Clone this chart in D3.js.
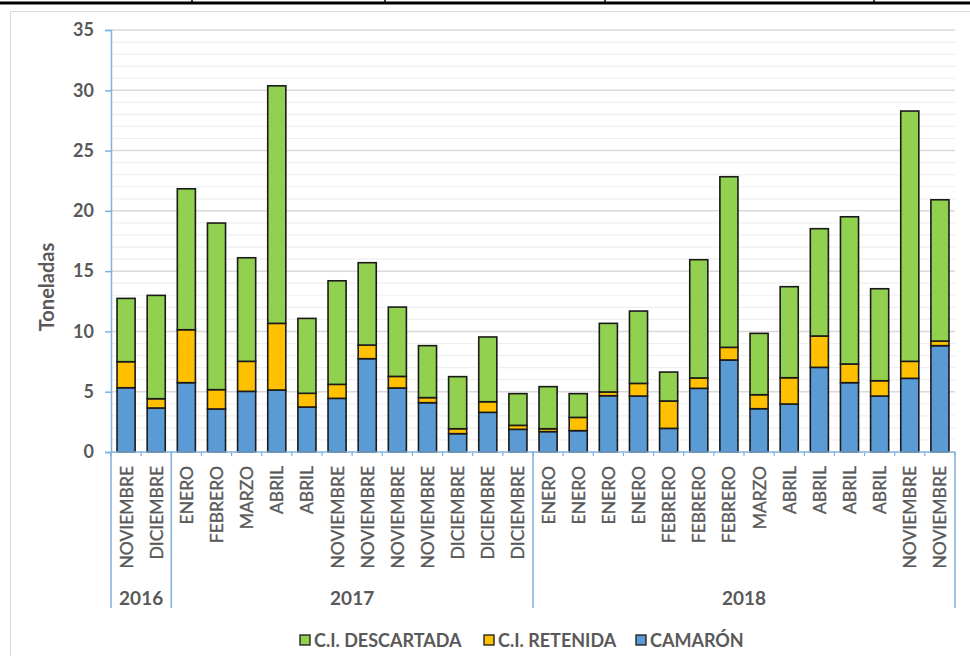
<!DOCTYPE html>
<html>
<head>
<meta charset="utf-8">
<script src="https://cdn.jsdelivr.net/npm/d3@7"></script>
<style>
  html, body { margin: 0; padding: 0; background: #fff; }
  svg { display: block; font-family: Lato, "Open Sans", sans-serif; }
</style>
</head>
<body>
<svg id="chart" width="970" height="656"></svg>
<script>
// Monthly catch composition (tonnes)
const months = [
  "NOVIEMBRE", "DICIEMBRE",
  "ENERO", "FEBRERO", "MARZO", "ABRIL", "ABRIL", "NOVIEMBRE", "NOVIEMBRE",
  "NOVIEMBRE", "NOVIEMBRE", "DICIEMBRE", "DICIEMBRE", "DICIEMBRE",
  "ENERO", "ENERO", "ENERO", "ENERO", "FEBRERO", "FEBRERO", "FEBRERO",
  "MARZO", "ABRIL", "ABRIL", "ABRIL", "ABRIL", "NOVIEMBRE", "NOVIEMBRE"
];
const years = [
  "2016", "2016",
  "2017", "2017", "2017", "2017", "2017", "2017", "2017", "2017", "2017", "2017", "2017", "2017",
  "2018", "2018", "2018", "2018", "2018", "2018", "2018", "2018", "2018", "2018", "2018", "2018", "2018", "2018"
];
const camaron = [5.33, 3.65, 5.75, 3.57, 5.03, 5.14, 3.73, 4.45, 7.74, 5.31, 4.09, 1.52, 3.29, 1.88,
                 1.69, 1.77, 4.67, 4.64, 1.96, 5.28, 7.63, 3.59, 3.98, 7.02, 5.75, 4.64, 6.11, 8.82];
const retenida = [2.16, 0.77, 4.39, 1.60, 2.49, 5.53, 1.14, 1.16, 1.13, 0.96, 0.42, 0.41, 0.88, 0.33,
                  0.24, 1.10, 0.31, 1.05, 2.27, 0.86, 1.05, 1.16, 2.18, 2.60, 1.55, 1.27, 1.41, 0.38];
const descartada = [5.25, 8.57, 11.69, 13.82, 8.59, 19.70, 6.21, 8.59, 6.83, 5.75, 4.31, 4.32, 5.37, 2.63,
                    3.49, 1.97, 5.69, 6.00, 2.40, 9.81, 14.15, 5.09, 7.55, 8.90, 12.21, 7.63, 20.76, 11.72];
const yTicks = [0, 5, 10, 15, 20, 25, 30, 35];
const seriesNames = ["CAMARÓN", "C.I. RETENIDA", "C.I. DESCARTADA"];
const seriesColors = ["#5b9bd5", "#ffc000", "#92d050"];

const svg = d3.select("#chart");
const axisBlue = "#7fb0de";
const textGrey = "#595959";

// page rule above the chart
svg.append("rect").attr("x", 0).attr("y", 1.5).attr("width", 970).attr("height", 3).attr("fill", "#000");
[192, 385, 605, 874].forEach(px => {
  svg.append("line").attr("x1", px).attr("x2", px).attr("y1", 0).attr("y2", 4)
    .attr("stroke", "#000").attr("stroke-width", 1.5);
});

// chart frame
svg.append("rect").attr("x", 10.5).attr("y", 11.5).attr("width", 1000).attr("height", 700)
  .attr("fill", "#fff").attr("stroke", "#d9d9d9").attr("stroke-width", 1);

const plotLeft = 111, plotRight = 955, plotTop = 30, plotBottom = 452;

const x = d3.scaleBand().domain(d3.range(months.length)).range([plotLeft, plotRight])
  .paddingInner(0.4).paddingOuter(0.2);
const y = d3.scaleLinear().domain([0, 35]).range([plotBottom, plotTop]);

// minor gridlines
const grid = svg.append("g");
grid.selectAll("line.minor").data(d3.range(1, 36).filter(v => v % 5 !== 0)).join("line")
  .attr("class", "minor")
  .attr("x1", plotLeft).attr("x2", plotRight)
  .attr("y1", d => y(d)).attr("y2", d => y(d))
  .attr("stroke", "#efefef").attr("stroke-width", 1.2);
// major gridlines
grid.selectAll("line.major").data(yTicks.filter(v => v > 0)).join("line")
  .attr("class", "major")
  .attr("x1", plotLeft).attr("x2", plotRight)
  .attr("y1", d => y(d)).attr("y2", d => y(d))
  .attr("stroke", "#d9d9d9").attr("stroke-width", 1.5);

// stacked bars
const rows = months.map((m, i) => ({ i, camaron: camaron[i], retenida: retenida[i], descartada: descartada[i] }));
const stack = d3.stack().keys(["camaron", "retenida", "descartada"])(rows);
svg.append("g").selectAll("g").data(stack).join("g")
  .attr("fill", (d, k) => seriesColors[k])
  .selectAll("rect").data(d => d).join("rect")
  .attr("x", d => x(d.data.i))
  .attr("width", x.bandwidth())
  .attr("y", d => y(d[1]))
  .attr("height", d => y(d[0]) - y(d[1]))
  .attr("stroke", "#1a1a1a").attr("stroke-width", 1.6);

// y axis
const yAxis = d3.axisLeft(y).tickValues(yTicks).tickSize(6).tickPadding(11);
const ya = svg.append("g").attr("transform", `translate(${plotLeft},0)`).call(yAxis);
ya.select(".domain").attr("stroke", axisBlue).attr("stroke-width", 1.5);
ya.selectAll(".tick line").attr("stroke", axisBlue).attr("stroke-width", 1.5);
ya.selectAll(".tick text").attr("fill", textGrey).attr("font-size", 18).attr("font-weight", 700)
  .attr("font-family", "Lato, sans-serif");

// x axis baseline with category ticks
const step = x.step();
const bounds = d3.range(months.length + 1).map(i => plotLeft + i * step);
svg.append("line").attr("x1", plotLeft).attr("x2", plotRight).attr("y1", plotBottom).attr("y2", plotBottom)
  .attr("stroke", axisBlue).attr("stroke-width", 1.5);
svg.append("g").selectAll("line").data(bounds).join("line")
  .attr("x1", d => d).attr("x2", d => d).attr("y1", plotBottom).attr("y2", plotBottom + 4)
  .attr("stroke", axisBlue).attr("stroke-width", 1.2);

// month labels
svg.append("g").selectAll("text").data(months).join("text")
  .attr("transform", (d, i) => `translate(${x(i) + x.bandwidth() / 2},466) rotate(-90)`)
  .attr("text-anchor", "end").attr("dominant-baseline", "central")
  .attr("fill", textGrey).attr("stroke", textGrey).attr("stroke-width", 0.35)
  .attr("font-size", 17.5).attr("font-weight", 400)
  .text(d => d);

// year groups
const groups = [];
years.forEach((yr, i) => {
  const last = groups[groups.length - 1];
  if (last && last.year === yr) last.end = i; else groups.push({ year: yr, start: i, end: i });
});
const seps = [plotLeft].concat(groups.map(gr => plotLeft + (gr.end + 1) * step));
svg.append("g").selectAll("line").data(seps).join("line")
  .attr("x1", d => d).attr("x2", d => d).attr("y1", plotBottom).attr("y2", 608)
  .attr("stroke", axisBlue).attr("stroke-width", 1.5);
svg.append("g").selectAll("text").data(groups).join("text")
  .attr("x", (d, k) => (seps[k] + seps[k + 1]) / 2)
  .attr("y", 597).attr("text-anchor", "middle").attr("dominant-baseline", "central")
  .attr("fill", textGrey).attr("font-size", 19).attr("font-weight", 700)
  .text(d => d.year);

// y axis title
svg.append("text")
  .attr("transform", "translate(46,287) rotate(-90)")
  .attr("text-anchor", "middle").attr("dominant-baseline", "central")
  .attr("fill", textGrey).attr("font-size", 20).attr("font-weight", 700)
  .text("Toneladas");

// legend
const legendItems = [
  { name: seriesNames[2], color: seriesColors[2], x: 300 },
  { name: seriesNames[1], color: seriesColors[1], x: 484 },
  { name: seriesNames[0], color: seriesColors[0], x: 636 }
];
const lg = svg.append("g").selectAll("g").data(legendItems).join("g")
  .attr("transform", d => `translate(${d.x},640)`);
lg.append("rect").attr("x", 0).attr("y", -5).attr("width", 10).attr("height", 10)
  .attr("fill", d => d.color).attr("stroke", "#1a1a1a").attr("stroke-width", 1.3);
lg.append("text").attr("x", 14).attr("y", 0).attr("dominant-baseline", "central")
  .attr("fill", textGrey).attr("font-size", 18).attr("font-weight", 700)
  .text(d => d.name);
</script>
</body>
</html>
